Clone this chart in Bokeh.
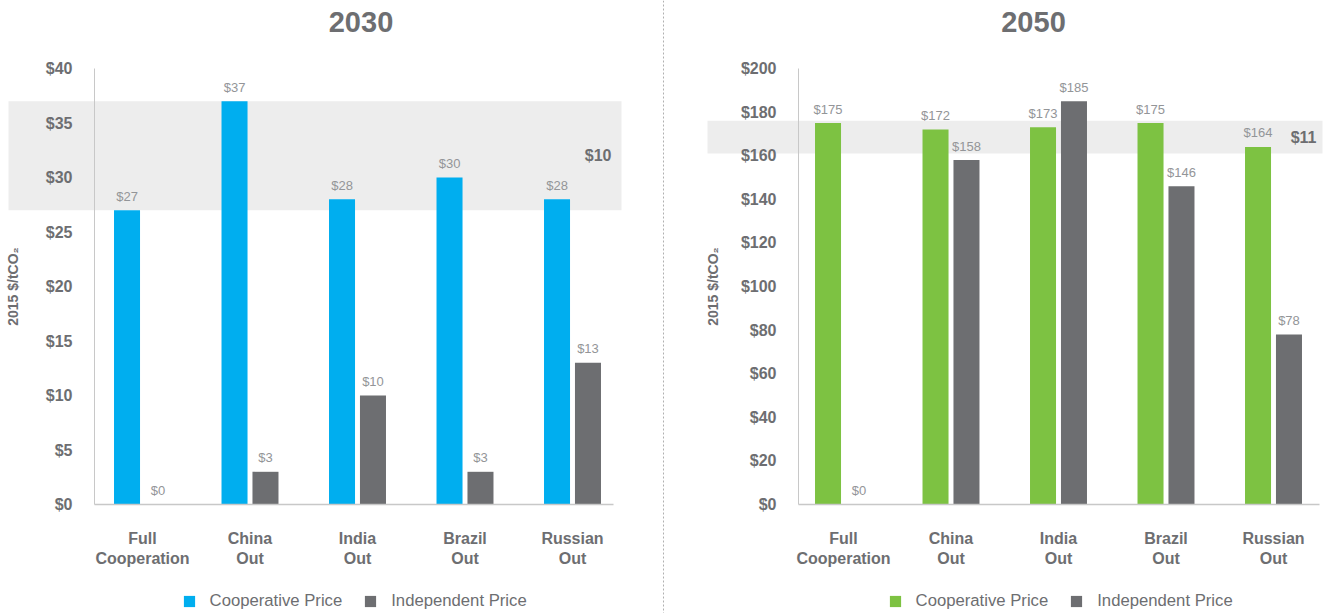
from bokeh.plotting import figure
from bokeh.models import (Range1d, FixedTicker, PrintfTickFormatter, BoxAnnotation, Label,
                          Legend, LegendItem, ColumnDataSource, Span)
from bokeh.transform import dodge
from bokeh.layouts import row
from bokeh.embed import file_html
from bokeh.resources import INLINE
from bokeh.core.properties import value

# ---------------- data ----------------
categories = ["Full Cooperation", "China Out", "India Out", "Brazil Out", "Russian Out"]
tick_labels = ["Full\nCooperation", "China\nOut", "India\nOut", "Brazil\nOut", "Russian\nOut"]
series_names = ["Cooperative Price", "Independent Price"]

coop_2030 = [27, 37, 28, 30, 28]
indep_2030 = [0, 3, 10, 3, 13]
band_2030 = [27, 37]
band_label_2030 = "$10"
yticks_2030 = [0, 5, 10, 15, 20, 25, 30, 35, 40]

coop_2050 = [175, 172, 173, 175, 164]
indep_2050 = [0, 158, 185, 146, 78]
band_2050 = [161, 176]
band_label_2050 = "$11"
yticks_2050 = [0, 20, 40, 60, 80, 100, 120, 140, 160, 180, 200]

# ---------------- style / layout (pixels) ----------------
FONT = "Liberation Sans"
TEXT = "#6d6e71"
VAL = "#939598"
AXIS = "#c8c8c8"
BAND = "#ededed"
BLUE = "#00aeef"
GREEN = "#7dc242"
DARK = "#6d6e71"
H = 613
TOP_PX, BASE_PX = 68, 504       # y pixel of top tick and of zero line
CAT_PX = 107.5                  # pixels per category
OFF = 0.144
BW = 0.242


def panel(title, coop, indep, band, band_label, yticks, coop_color, ox, width, c0,
          axis_px, axis_end_px, band_px, title_px, legend_px, band_label_px, ylab_standoff):
    def dx(px):
        return (px - c0) / CAT_PX

    ppu = (BASE_PX - TOP_PX) / yticks[-1]

    def dy(py):
        return (BASE_PX - py) / ppu

    p = figure(width=width, height=H, output_backend="svg", toolbar_location=None,
               x_range=Range1d(dx(ox), dx(ox + width)), y_range=Range1d(dy(H), dy(0)),
               min_border=0)
    p.outline_line_color = None
    p.xgrid.visible = False
    p.ygrid.visible = False

    src = ColumnDataSource(dict(
        x=list(range(len(categories))), cat=categories,
        coop=coop, indep=indep,
        coop_lbl=["$%d" % v for v in coop], indep_lbl=["$%d" % v for v in indep]))

    p.add_layout(BoxAnnotation(bottom=band[0], top=band[1], left=dx(band_px[0]),
                               right=dx(band_px[1]), fill_color=BAND, fill_alpha=1,
                               line_color=None, level="underlay"))

    r1 = p.vbar(x=dodge("x", -OFF, range=p.x_range), top="coop", width=BW, source=src,
                fill_color=coop_color, line_color=None)
    r2 = p.vbar(x=dodge("x", OFF, range=p.x_range), top="indep", width=BW, source=src,
                fill_color=DARK, line_color=None)

    for off, col, lbl in ((-OFF, "coop", "coop_lbl"), (OFF, "indep", "indep_lbl")):
        p.text(x=dodge("x", off, range=p.x_range), y=col, text=lbl, source=src,
               text_align="center", text_baseline="alphabetic", y_offset=-14,
               text_font=value(FONT), text_font_size="13px", text_color=VAL)

    # y axis
    ya = p.yaxis[0]
    ya.fixed_location = dx(axis_px)
    ya.bounds = (yticks[0], yticks[-1])
    ya.ticker = FixedTicker(ticks=yticks)
    ya.formatter = PrintfTickFormatter(format="$%d")
    ya.major_tick_line_color = None
    ya.minor_tick_line_color = None
    ya.axis_line_color = AXIS
    ya.major_label_standoff = 16
    ya.major_label_text_font = FONT
    ya.major_label_text_font_size = "16px"
    ya.major_label_text_font_style = "bold"
    ya.major_label_text_color = TEXT
    ya.axis_label = "2015 $/tCO\u2082"
    ya.axis_label_text_font = FONT
    ya.axis_label_text_font_size = "14px"
    ya.axis_label_text_font_style = "bold"
    ya.axis_label_text_color = TEXT
    ya.axis_label_standoff = ylab_standoff

    # x axis
    xa = p.xaxis[0]
    xa.fixed_location = 0
    xa.bounds = (dx(axis_px), dx(axis_end_px))
    xa.ticker = FixedTicker(ticks=list(range(len(categories))))
    xa.major_label_overrides = {i: t for i, t in enumerate(tick_labels)}
    xa.major_tick_line_color = None
    xa.minor_tick_line_color = None
    xa.axis_line_color = AXIS
    xa.axis_line_width = 1.5
    xa.major_label_standoff = 19
    xa.major_label_text_font = FONT
    xa.major_label_text_font_size = "16px"
    xa.major_label_text_font_style = "bold"
    xa.major_label_text_color = TEXT
    xa.major_label_text_align = "center"

    # title
    p.add_layout(Label(x=title_px - ox, y=H - 21, x_units="screen", y_units="screen",
                       text=title, text_align="center", text_baseline="middle",
                       text_font=FONT, text_font_size="29px", text_font_style="bold",
                       text_color=TEXT))
    # band label
    p.add_layout(Label(x=band_label_px - ox, y=(band[0] + band[1]) / 2, x_units="screen",
                       y_units="data", text=band_label, text_align="right",
                       text_baseline="middle", text_font=FONT, text_font_size="16px",
                       text_font_style="bold", text_color=TEXT))

    legend = Legend(items=[LegendItem(label=series_names[0], renderers=[r1]),
                           LegendItem(label=series_names[1], renderers=[r2])],
                    location=(legend_px - ox, 2), orientation="horizontal",
                    padding=0, margin=0, border_line_color=None,
                    background_fill_alpha=0, glyph_width=14, glyph_height=14,
                    label_standoff=14, spacing=21, label_text_font=FONT,
                    label_text_font_size="16.7px", label_text_color=TEXT)
    p.add_layout(legend)
    return p


left = panel("2030", coop_2030, indep_2030, band_2030, band_label_2030, yticks_2030, BLUE,
             ox=0, width=660, c0=142, axis_px=94, axis_end_px=613, band_px=(8, 621),
             title_px=360.5, legend_px=181.6, band_label_px=611, ylab_standoff=22)

right = panel("2050", coop_2050, indep_2050, band_2050, band_label_2050, yticks_2050, GREEN,
              ox=666, width=658, c0=843, axis_px=798, axis_end_px=1319, band_px=(707, 1322),
              title_px=1033, legend_px=887.6, band_label_px=1316, ylab_standoff=17)

sep = figure(width=6, height=H, output_backend="svg", toolbar_location=None,
             x_range=Range1d(-1, 1), y_range=Range1d(0, 1), min_border=0,
             x_axis_location=None, y_axis_location=None)
sep.outline_line_color = None
sep.grid.visible = False
sep.add_layout(Span(location=0, dimension="height", line_color="#b0b0b0",
                    line_dash="2 2", line_width=1))

layout = row(left, sep, right, spacing=0)
open("out.html", "w").write(file_html(layout, INLINE))
